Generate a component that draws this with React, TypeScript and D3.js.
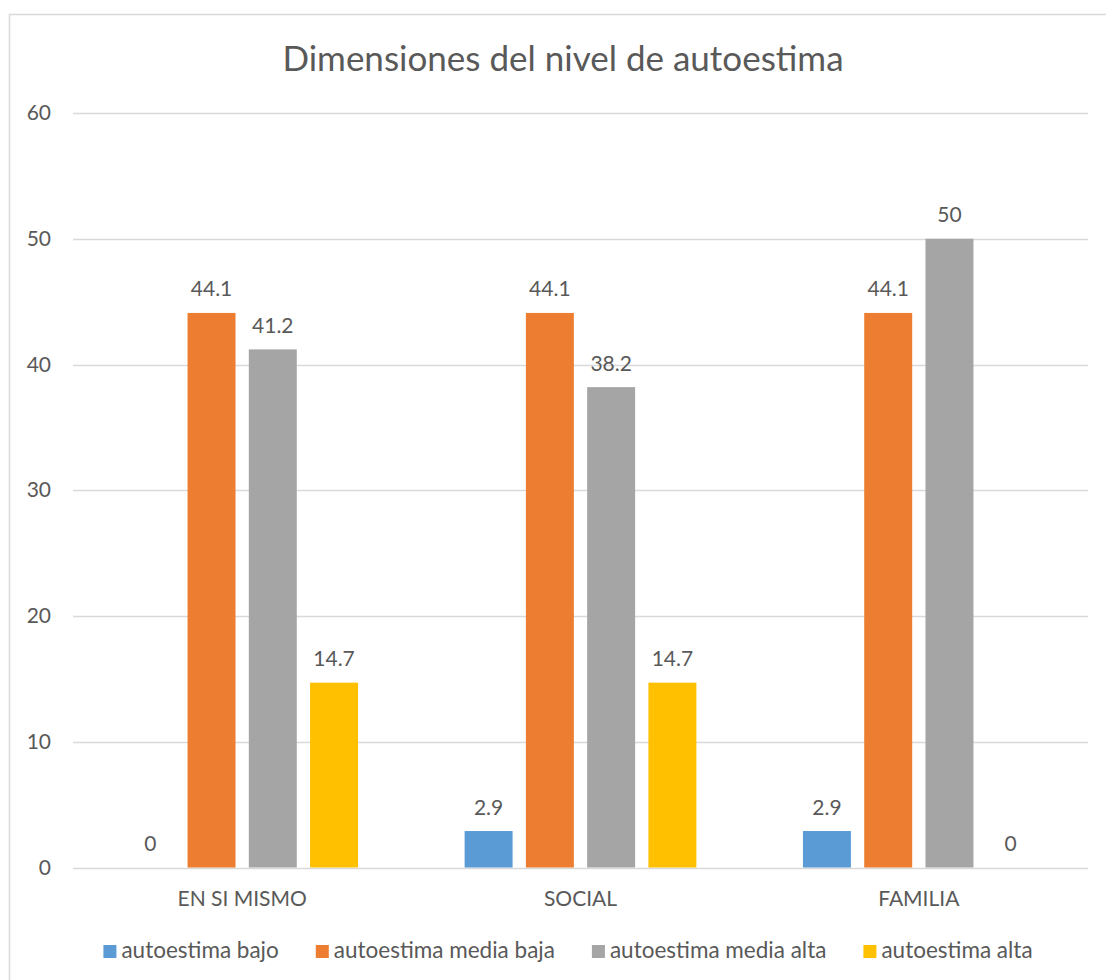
import React, { useEffect, useRef } from "react";
import * as d3 from "d3";

const title = "Dimensiones del nivel de autoestima";
const categories = ["EN SI MISMO", "SOCIAL", "FAMILIA"];
const seriesNames = [
  "autoestima bajo",
  "autoestima media baja",
  "autoestima media alta",
  "autoestima alta",
];
const seriesColors = ["#5B9BD5", "#ED7D31", "#A5A5A5", "#FFC000"];
// values per series, in category order
const bajo = [0, 2.9, 2.9];
const mediaBaja = [44.1, 44.1, 44.1];
const mediaAlta = [41.2, 38.2, 50];
const alta = [14.7, 14.7, 0];
const yTicks = [0, 10, 20, 30, 40, 50, 60];

const W = 1106;
const H = 980;
const FONT = "Lato, 'Open Sans', sans-serif";
const TEXT = "#595959";
const GRID = "#D9D9D9";

export default function App() {
  const ref = useRef<SVGSVGElement | null>(null);

  useEffect(() => {
    const svg = d3.select(ref.current);
    svg.selectAll("*").remove();

    const values = [bajo, mediaBaja, mediaAlta, alta];
    const rows = categories.map((c, ci) => ({
      category: c,
      items: seriesNames.map((s, si) => ({ series: s, idx: si, value: values[si][ci] })),
    }));

    // chart area frame
    svg
      .append("rect")
      .attr("x", 9.5)
      .attr("y", 14.5)
      .attr("width", W + 20)
      .attr("height", H + 20)
      .attr("fill", "#fff")
      .attr("stroke", GRID)
      .attr("stroke-width", 1.5);

    const plotLeft = 73;
    const plotRight = 1088;
    const plotTop = 113;
    const plotBottom = 867.5;

    const x0 = d3.scaleBand<string>().domain(categories).range([plotLeft, plotRight]);
    const bw = x0.bandwidth();
    const x1 = d3
      .scaleBand<string>()
      .domain(seriesNames)
      .range([bw * 0.1575, bw * (1 - 0.1575)])
      .paddingInner(0.217);
    const y = d3.scaleLinear().domain([0, 60]).range([plotBottom, plotTop]);

    // title
    svg
      .append("text")
      .attr("x", 563)
      .attr("y", 71)
      .attr("text-anchor", "middle")
      .attr("font-family", FONT)
      .attr("font-size", 35)
      .attr("fill", TEXT)
      .text(title);

    // gridlines and y labels
    const g = svg.append("g");
    g.selectAll("line.grid")
      .data(yTicks)
      .join("line")
      .attr("class", "grid")
      .attr("x1", plotLeft)
      .attr("x2", plotRight)
      .attr("y1", (d) => Math.round(y(d)) + 0.5)
      .attr("y2", (d) => Math.round(y(d)) + 0.5)
      .attr("stroke", GRID)
      .attr("stroke-width", 1.5);

    g.selectAll("text.ytick")
      .data(yTicks)
      .join("text")
      .attr("class", "ytick")
      .attr("x", 51)
      .attr("y", (d) => y(d) + 7)
      .attr("text-anchor", "end")
      .attr("font-family", FONT)
      .attr("font-size", 21)
      .attr("fill", TEXT)
      .text((d) => String(d));

    // bars
    const groups = svg
      .append("g")
      .selectAll("g.cat")
      .data(rows)
      .join("g")
      .attr("class", "cat")
      .attr("transform", (d) => `translate(${x0(d.category)},0)`);

    groups
      .selectAll("rect")
      .data((d) => d.items)
      .join("rect")
      .attr("x", (d) => x1(d.series)!)
      .attr("width", x1.bandwidth())
      .attr("y", (d) => y(d.value))
      .attr("height", (d) => y(0) - y(d.value))
      .attr("fill", (d) => seriesColors[d.idx]);

    groups
      .selectAll("text")
      .data((d) => d.items)
      .join("text")
      .attr("x", (d) => x1(d.series)! + x1.bandwidth() / 2)
      .attr("y", (d) => y(d.value) - 16.5)
      .attr("text-anchor", "middle")
      .attr("font-family", FONT)
      .attr("font-size", 21)
      .attr("fill", TEXT)
      .text((d) => String(d.value));

    // category labels
    svg
      .append("g")
      .selectAll("text")
      .data(categories)
      .join("text")
      .attr("x", (d) => x0(d)! + bw / 2)
      .attr("y", 906)
      .attr("text-anchor", "middle")
      .attr("font-family", FONT)
      .attr("font-size", 21)
      .attr("fill", TEXT)
      .text((d) => d);

    // legend, laid out from measured text widths and centred
    const legend = svg.append("g");
    const items = legend
      .selectAll("g")
      .data(seriesNames)
      .join("g");
    items
      .append("rect")
      .attr("width", 13)
      .attr("height", 13)
      .attr("y", 945)
      .attr("fill", (_, i) => seriesColors[i]);
    items
      .append("text")
      .attr("x", 18)
      .attr("y", 958)
      .attr("font-family", FONT)
      .attr("font-size", 22.5)
      .attr("fill", TEXT)
      .text((d) => d);
    const widths: number[] = [];
    items.each(function () {
      const t = d3.select(this).select("text").node() as SVGTextElement;
      widths.push(18 + t.getComputedTextLength());
    });
    const gap = 37;
    const total = d3.sum(widths) + gap * (widths.length - 1);
    let cx = 568 - total / 2;
    items.attr("transform", (_, i) => {
      const tx = cx;
      cx += widths[i] + gap;
      return `translate(${tx},0)`;
    });
  }, []);

  return (
    <svg
      ref={ref}
      width={W}
      height={H}
      style={{ position: "absolute", left: 0, top: 0, background: "#fff" }}
    />
  );
}
